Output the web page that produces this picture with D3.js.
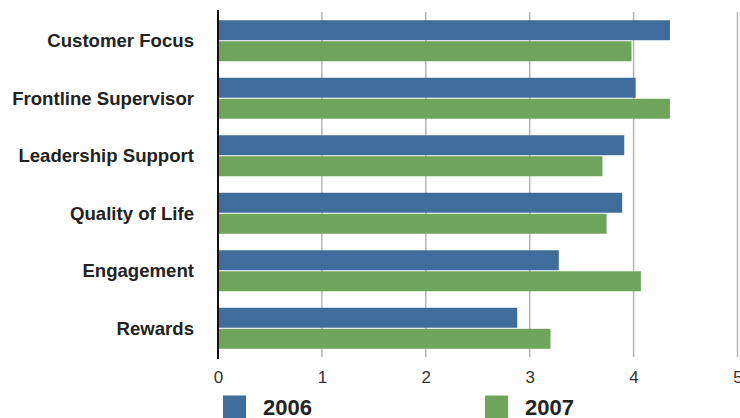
<!DOCTYPE html>
<html>
<head>
<meta charset="utf-8">
<script src="https://cdn.jsdelivr.net/npm/d3@7"></script>
<style>
  body { margin: 0; background: #fff; }
  svg { display: block; font-family: "Liberation Sans", Arial, sans-serif; }
</style>
</head>
<body>
<div id="chart"></div>
<script>
// data
const categories = ["Customer Focus", "Frontline Supervisor", "Leadership Support", "Quality of Life", "Engagement", "Rewards"];
const seriesNames = ["2006", "2007"];
const values2006 = [4.35, 4.02, 3.91, 3.89, 3.28, 2.88];
const values2007 = [3.98, 4.35, 3.70, 3.74, 4.07, 3.20];
const xTicks = [0, 1, 2, 3, 4, 5];
const colors = { "2006": "#3e6d9c", "2007": "#6ea55a" };

const W = 740, H = 418;

const rows = categories.map((c, i) => ({ category: c, "2006": values2006[i], "2007": values2007[i] }));

const svg = d3.select("#chart")
  .append("svg")
  .attr("width", W)
  .attr("height", H);

// scales
const x = d3.scaleLinear().domain([0, 5]).range([218, 737.5]);

const y0 = d3.scaleBand()
  .domain(categories)
  .range([10, 359])
  .paddingInner(0.287)
  .paddingOuter(0.178);

const y1 = d3.scaleBand()
  .domain(seriesNames)
  .range([0, y0.bandwidth()])
  .paddingInner(0.05);

// grid lines
svg.append("g")
  .selectAll("line")
  .data(xTicks.filter(t => t > 0))
  .join("line")
  .attr("x1", d => x(d))
  .attr("x2", d => x(d))
  .attr("y1", 12)
  .attr("y2", 357)
  .attr("stroke", "#b4b4b4")
  .attr("stroke-width", 1.5);

// bars
svg.append("g")
  .selectAll("g")
  .data(rows)
  .join("g")
  .attr("transform", d => `translate(0,${y0(d.category)})`)
  .selectAll("rect")
  .data(d => seriesNames.map(key => ({ key, value: d[key] })))
  .join("rect")
  .attr("x", x(0))
  .attr("y", d => y1(d.key))
  .attr("width", d => x(d.value) - x(0))
  .attr("height", y1.bandwidth())
  .attr("fill", d => colors[d.key]);

// y axis line
svg.append("line")
  .attr("x1", x(0))
  .attr("x2", x(0))
  .attr("y1", 10)
  .attr("y2", 359)
  .attr("stroke", "#111")
  .attr("stroke-width", 2);

// category labels
svg.append("g")
  .selectAll("text")
  .data(categories)
  .join("text")
  .attr("x", 194)
  .attr("y", d => y0(d) + y0.bandwidth() / 2)
  .attr("dy", "0.36em")
  .attr("text-anchor", "end")
  .attr("font-size", "18.6px")
  .attr("font-weight", "bold")
  .attr("fill", "#222")
  .text(d => d);

// x axis tick labels
const xAxis = svg.append("g")
  .attr("transform", "translate(0,371)")
  .call(d3.axisBottom(x).tickValues(xTicks).tickSize(0).tickFormat(d3.format("d")));
xAxis.select(".domain").remove();
xAxis.selectAll("text")
  .attr("y", 0)
  .attr("dy", "0.71em")
  .style("font-size", "17px")
  .style("font-family", "'Liberation Sans', Arial, sans-serif")
  .attr("fill", "#333");

// legend
const legend = svg.append("g")
  .selectAll("g")
  .data(seriesNames)
  .join("g")
  .attr("transform", (d, i) => `translate(${[223, 485][i]},395.5)`);

legend.append("rect")
  .attr("width", 23)
  .attr("height", 23)
  .attr("fill", d => colors[d]);

legend.append("text")
  .attr("x", 40)
  .attr("y", 19.8)
  .attr("font-size", "22px")
  .attr("font-weight", "bold")
  .attr("fill", "#222")
  .text(d => d);
</script>
</body>
</html>
